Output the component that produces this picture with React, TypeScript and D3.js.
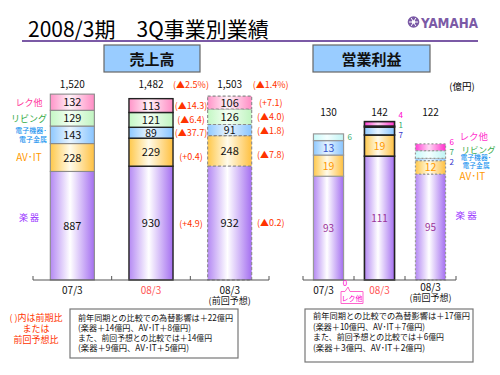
import React from 'react';
import * as d3 from 'd3';

// ---------- data ----------
const segmentNames = ['楽器', 'AV･IT', '電子機器･電子金属', 'リビング', 'レク他'];
const categories = ['07/3', '08/3', '08/3(前回予想)'];

const sales0703 = [887, 228, 143, 129, 132];
const sales0803 = [930, 229, 89, 121, 113];
const salesForecast = [932, 248, 91, 126, 106];
const salesTotals = ['1,520', '1,482', '1,503'];
const salesChangePrev = ['(+4.9)', '(+0.4)', '(▲37.7)', '(▲6.4)', '(▲14.3)'];
const salesChangeForecast = ['(▲0.2)', '(▲7.8)', '(▲1.8)', '(▲4.0)', '(+7.1)'];
const salesTotalChange = ['(▲2.5%)', '(▲1.4%)'];

const profit0703 = [93, 19, 13, 6, 0];
const profit0803 = [111, 19, 7, 1, 4];
const profitForecast = [95, 12, 2, 7, 6];
const profitTotals = ['130', '142', '122'];

const noteLeft = [
  '前年同期との比較での為替影響は＋22億円',
  '(楽器＋14億円、AV･IT＋8億円)',
  'また、前回予想との比較では＋14億円',
  '(楽器＋9億円、AV･IT＋5億円)',
];
const noteRight = [
  '前年同期との比較での為替影響は＋17億円',
  '(楽器＋10億円、AV･IT＋7億円)',
  'また、前回予想との比較では＋6億円',
  '(楽器＋3億円、AV･IT＋2億円)',
];
const noteRed = ['(  )内は前期比', 'または', '前回予想比'];

// ---------- styles / layout ----------
const FONT = "'Noto Sans CJK JP','Noto Sans',sans-serif";
const noteLeftWidths = [155, 113, 134, 111];
const noteRightWidths = [157, 112, 131, 112];
const salesGrad = [
  ['#b489f3', '#ffffff', '#a46ff0'],
  ['#ffc84a', '#fffbea', '#ffc040'],
  ['#8ec8ff', '#e9f5ff', '#88c4ff'],
  ['#c4f7c4', '#f4fff4', '#c0f4c0'],
  ['#ff94c8', '#fff2f8', '#ff8cc4'],
];
const profitGrad = [
  ['#b489f3', '#ffffff', '#a46ff0'],
  ['#ffc84a', '#fffbea', '#ffc040'],
  ['#8ec8ff', '#e9f5ff', '#88c4ff'],
  ['#c8fafa', '#f4ffff', '#c0f4f4'],
  ['#ff3fd4', '#ffd8f4', '#ff30cc'],
];
const legendColors = ['#9933ff', '#ff9900', '#0088ee', '#33aa44', '#ff3399'];
const profitInColors = ['#993399', '#ff9900', '#3355cc', '#33aa66', '#ff00cc'];
const profitSideColors = ['#993399', '#ff9900', '#3333cc', '#33aa66', '#ff00cc'];
const RED = '#ff3300';

function stackOf(values: number[]) {
  const cum = Array.from(d3.cumsum(values));
  return values.map((v, i) => ({ i, v, y0: cum[i] - v, y1: cum[i] }));
}

function Grad({ id, c }: { id: string; c: string[] }) {
  return (
    <linearGradient id={id} x1="0" x2="1" y1="0" y2="0">
      <stop offset="0" stopColor={c[0]} />
      <stop offset="0.45" stopColor={c[1]} />
      <stop offset="1" stopColor={c[2]} />
    </linearGradient>
  );
}

export default function App() {
  // ---------- left chart scales ----------
  const xL = d3.scalePoint<string>().domain(categories).range([33, 269]).padding(0.5);
  const yL = d3.scaleLinear().domain([0, 1520]).range([280, 94]);
  const bwL = xL.step() * 0.56;
  const salesSeries = [sales0703, sales0803, salesForecast];

  // ---------- right chart scales ----------
  const xR = d3.scalePoint<string>().domain(categories).range([303, 456]).padding(0.5);
  const yR = d3.scaleLinear().domain([0, 130]).range([280, 135]);
  const bwR = xR.step() * 0.59;
  const profitSeries = [profit0703, profit0803, profitForecast];

  const barStroke = ['#8a8a8a', '#222222', '#8a8a8a'];
  const barDash = [undefined, undefined, '3,2'];

  const axis = (x0: number, x1: number, step: number) => (
    <g>
      <line x1={x0} x2={x1} y1={280} y2={280} stroke="#555" strokeWidth={1} />
      {d3.range(4).map((k) => (
        <line key={k} x1={x0 + k * step} x2={x0 + k * step} y1={276} y2={280} stroke="#555" />
      ))}
    </g>
  );

  return (
    <svg width={500} height={375} style={{ position: 'absolute', left: 0, top: 0, background: '#fff' }} fontFamily={FONT}>
      <defs>
        {salesGrad.map((c, i) => <Grad key={'s' + i} id={'sg' + i} c={c} />)}
        {profitGrad.map((c, i) => <Grad key={'p' + i} id={'pg' + i} c={c} />)}
      </defs>
      <rect width={500} height={375} fill="#fff" />

      {/* header */}
      <text x={28} y={37} fontSize={21} fill="#000">2008/3期　3Q事業別業績</text>
      <line x1={22} x2={478} y1={41} y2={41} stroke="#7b5aa6" strokeWidth={2} />
      <g>
        <circle cx={413.5} cy={22} r={5.8} fill="#7b5aa6" />
        {[0, 60, 120].map((a) => (
          <line key={a} x1={413.5 - 4.5 * Math.cos((a * Math.PI) / 180)} y1={22 - 4.5 * Math.sin((a * Math.PI) / 180)}
            x2={413.5 + 4.5 * Math.cos((a * Math.PI) / 180)} y2={22 + 4.5 * Math.sin((a * Math.PI) / 180)}
            stroke="#fff" strokeWidth={1} />
        ))}
        <circle cx={413.5} cy={22} r={1.8} fill="#fff" />
        <text x={421} y={27.5} fontSize={14} fontWeight="bold" fill="#7b5aa6" fontFamily="'DejaVu Sans Condensed','DejaVu Sans',sans-serif"
          textLength={57} lengthAdjust="spacingAndGlyphs">YAMAHA</text>
      </g>
      <rect x={104} y={45} width={96} height={27} fill="#99ccff" stroke="#666" strokeWidth={1.2} />
      <text x={152} y={64.5} fontSize={15} textAnchor="middle" fontWeight="bold" fill="#111">売上高</text>
      <rect x={313} y={45} width={117} height={27} fill="#99ccff" stroke="#666" strokeWidth={1.2} />
      <text x={371.5} y={64.5} fontSize={15} textAnchor="middle" fontWeight="bold" fill="#111">営業利益</text>
      <text x={462} y={90} fontSize={9.5} textAnchor="middle" fill="#000">(億円)</text>

      {/* ---------- left chart: sales ---------- */}
      {salesSeries.map((vals, b) => {
        const cx = xL(categories[b])!;
        const st = stackOf(vals);
        return (
          <g key={'sb' + b}>
            {st.map((s) => (
              <rect key={s.i} x={cx - bwL / 2} y={yL(s.y1)} width={bwL} height={yL(s.y0) - yL(s.y1)}
                fill={`url(#sg${s.i})`} stroke={barStroke[b]} strokeWidth={b === 1 ? 1.4 : 1.1} strokeDasharray={barDash[b]} />
            ))}
            {st.map((s) => (
              <text key={'t' + s.i} x={cx} y={(yL(s.y0) + yL(s.y1)) / 2 + 4} fontSize={s.v < 100 ? 10.5 : 11} textAnchor="middle" fill="#111">{s.v}</text>
            ))}
            <text x={cx} y={88} fontSize={10} textAnchor="middle" fill="#111">{salesTotals[b]}</text>
          </g>
        );
      })}
      {/* change labels */}
      {[salesChangePrev, salesChangeForecast].map((labels, k) => {
        const b = k + 1;
        const cx = xL(categories[b])! + bwL / 2 + (k === 0 ? 18 : 19);
        const st = stackOf(salesSeries[b]);
        return (
          <g key={'ch' + k}>
            {st.map((s) => (
              <text key={s.i} x={cx} y={(yL(s.y0) + yL(s.y1)) / 2 + 3.5 + (s.i === 1 ? 4 : 0)} fontSize={9} textAnchor="middle" fill={RED}>{labels[s.i]}</text>
            ))}
            <text x={cx} y={88} fontSize={9} textAnchor="middle" fill={RED}>{salesTotalChange[k]}</text>
          </g>
        );
      })}
      {/* left legend */}
      {stackOf(sales0703).map((s) => {
        const yc = (yL(s.y0) + yL(s.y1)) / 2 + (s.i === 0 ? -8 : 0);
        if (s.i === 2) {
          return (
            <g key={'lg' + s.i}>
              <text x={31} y={yc - 1.5} fontSize={7} textAnchor="middle" fill={legendColors[2]}>電子機器･</text>
              <text x={33} y={yc + 7} fontSize={7} textAnchor="middle" fill={legendColors[2]}>電子金属</text>
            </g>
          );
        }
        const label = s.i === 0 ? '楽 器' : segmentNames[s.i];
        return <text key={'lg' + s.i} x={29} y={yc + 3.5} fontSize={s.i === 1 ? 10 : 9} textAnchor="middle" fill={legendColors[s.i]}>{label}</text>;
      })}
      {axis(33, 269, xL.step())}
      <text x={xL(categories[0])} y={294} fontSize={10} textAnchor="middle" fill="#111">07/3</text>
      <text x={xL(categories[1])} y={294} fontSize={10} textAnchor="middle" fill="#ff5555">08/3</text>
      <text x={xL(categories[2])} y={294} fontSize={10} textAnchor="middle" fill="#111">08/3</text>
      <text x={xL(categories[2])} y={304} fontSize={9} textAnchor="middle" fill="#111">(前回予想)</text>

      {/* ---------- right chart: operating profit ---------- */}
      {profitSeries.map((vals, b) => {
        const cx = xR(categories[b])!;
        const st = stackOf(vals);
        const small = st.filter((s) => s.v > 0 && s.v < 10).reverse();
        const centers = small.map((s) => (yR(s.y0) + yR(s.y1)) / 2);
        const mean = centers.length ? d3.mean(centers)! : 0;
        const sp = 9.8;
        return (
          <g key={'pb' + b}>
            {st.filter((s) => s.v > 0).map((s) => (
              <rect key={s.i} x={cx - bwR / 2} y={yR(s.y1)} width={bwR} height={yR(s.y0) - yR(s.y1)}
                fill={`url(#pg${s.i})`} stroke={b === 1 ? '#222' : '#999'} strokeWidth={b === 1 ? 1.6 : 1.2}
                strokeDasharray={b === 2 ? '2,2' : undefined} />
            ))}
            {st.filter((s) => s.v >= 10).map((s) => (
              <text key={'t' + s.i} x={cx} y={(yR(s.y0) + yR(s.y1)) / 2 + 4} fontSize={s.i === 0 ? 10 : 10.5}
                textAnchor="middle" fill={profitInColors[s.i]}>{s.v}</text>
            ))}
            {small.map((s, j) => (
              <text key={'sm' + s.i} x={cx + bwR / 2 + 4} y={(small.length > 1 ? mean + (j - (small.length - 1) / 2) * sp - 2 : centers[j]) + 3}
                fontSize={8} fill={profitSideColors[s.i]}>{s.v}</text>
            ))}
            <text x={cx} y={116} fontSize={10} textAnchor="middle" fill="#111">{profitTotals[b]}</text>
          </g>
        );
      })}
      {/* right legend */}
      {(() => {
        const st = stackOf(profitForecast);
        const x0 = xR(categories[2])! + bwR / 2 + 14;
        const yc = (i: number) => (yR(st[i].y0) + yR(st[i].y1)) / 2;
        return (
          <g>
            <text x={x0} y={yc(4) - 11 + 4} fontSize={9.5} fill="#ff33cc">レク他</text>
            <text x={x0 + 2} y={yc(3) - 6 + 4} fontSize={8.5} fill="#33aa44">リビング</text>
            <text x={x0 + 1} y={yc(2) - 3 + 3} fontSize={6.8} fill={legendColors[2]}>電子機器･</text>
            <text x={x0 + 3} y={yc(2) + 5.5 + 3} fontSize={6.8} fill={legendColors[2]}>電子金属</text>
            <text x={x0} y={yc(1) + 9 + 4} fontSize={10} fill={legendColors[1]}>AV･IT</text>
            <text x={x0 - 4} y={(yR(0) + yR(st[0].y1)) / 2 - 12 + 4} fontSize={9.5} fill={legendColors[0]}>楽 器</text>
          </g>
        );
      })()}
      {axis(303, 456, xR.step())}
      {/* zero callout for レク他 in 07/3 */}
      <text x={345} y={286} fontSize={8} textAnchor="middle" fill="#ff00cc">{profit0703[4]}</text>
      <path d="M341,291.5 H345 L348,287 L350,291.5 H363 V303.5 H341 Z" fill="#fff" stroke="#ff66cc" strokeWidth={1} />
      <text x={352} y={300.5} fontSize={7} textAnchor="middle" fill="#ff00cc">レク他</text>
      <text x={xR(categories[0])! - 5} y={294} fontSize={10} textAnchor="middle" fill="#111">07/3</text>
      <text x={xR(categories[1])} y={294} fontSize={10} textAnchor="middle" fill="#ff5555">08/3</text>
      <text x={xR(categories[2])} y={291} fontSize={10} textAnchor="middle" fill="#111">08/3</text>
      <text x={xR(categories[2])} y={301} fontSize={9} textAnchor="middle" fill="#111">(前回予想)</text>

      {/* notes */}
      {noteRed.map((t, i) => (
        <text key={'nr' + i} x={36} y={321 + i * 11} fontSize={9} textAnchor="middle" fill={RED}>{t}</text>
      ))}
      <rect x={70} y={309} width={168} height={49} fill="#fff" stroke="#777" strokeWidth={1.2} />
      {noteLeft.map((t, i) => (
        <text key={'nl' + i} x={78} y={321 + i * 10} fontSize={8.5} fill="#111"
          textLength={noteLeftWidths[i]} lengthAdjust="spacingAndGlyphs">{t}</text>
      ))}
      <rect x={305} y={309} width={168} height={53} fill="#fff" stroke="#777" strokeWidth={1.2} />
      {noteRight.map((t, i) => (
        <text key={'nR' + i} x={313} y={319 + i * 10.5} fontSize={8.5} fill="#111"
          textLength={noteRightWidths[i]} lengthAdjust="spacingAndGlyphs">{t}</text>
      ))}
    </svg>
  );
}
